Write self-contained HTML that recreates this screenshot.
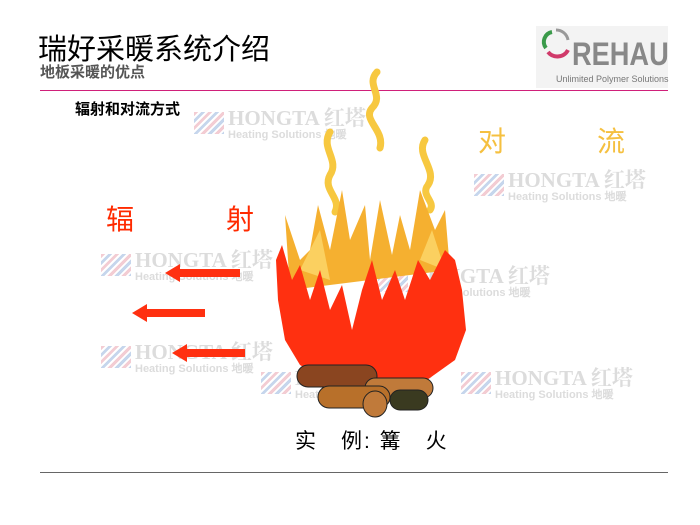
<!DOCTYPE html>
<html><head><meta charset="utf-8"><style>
body{margin:0;width:700px;height:525px;background:#fff;position:relative;overflow:hidden;font-family:"Liberation Sans","Noto Sans CJK SC",sans-serif}
.a{position:absolute;white-space:nowrap}
.wm{position:absolute;color:#dcdcdc;font-family:"Liberation Serif","Noto Serif CJK SC",serif;font-weight:bold;font-size:21px;line-height:21px}
.wm small{display:block;font-family:"Liberation Sans",sans-serif;font-size:11px;line-height:13px}
.wm i{position:absolute;left:-34px;top:4px;width:30px;height:22px;background:repeating-linear-gradient(135deg,#f0c0c8 0 3px,#fff 3px 5px,#b8cce8 5px 8px,#fff 8px 10px);opacity:.8}
</style></head><body>
<div class="a" style="left:38px;top:26px;font-size:29px;color:#000">瑞好采暖系统介绍</div>
<div class="a" style="left:40px;top:61px;font-size:15px;color:#555;font-weight:bold">地板采暖的优点</div>
<div class="a" style="left:536px;top:26px;width:132px;height:62px;background:#f3f3f3"></div>
<svg class="a" style="left:538px;top:26px" width="50" height="40"><path d="M14 6 A10 10 0 0 0 8 22" stroke="#3a9a4a" stroke-width="4" fill="none"/><path d="M10 26 A12 12 0 0 0 30 24" stroke="#d03a6a" stroke-width="4" fill="none"/><path d="M18 4 A12 12 0 0 1 30 14" stroke="#999" stroke-width="3" fill="none"/></svg>
<div class="a" style="left:572px;top:36px;font-size:32px;font-weight:bold;color:#888;transform:scaleX(0.85);transform-origin:left">REHAU</div>
<div class="a" style="left:556px;top:74px;font-size:9px;color:#777">Unlimited Polymer Solutions</div>
<div class="a" style="left:40px;top:90px;width:628px;height:1px;background:#d0207a"></div>
<div class="a" style="left:75px;top:98px;font-size:15px;font-weight:bold">辐射和对流方式</div>

<div class="wm" style="left:228px;top:108px"><i></i>HONGTA 红塔<small>Heating Solutions 地暖</small></div>
<div class="wm" style="left:508px;top:170px"><i></i>HONGTA 红塔<small>Heating Solutions 地暖</small></div>
<div class="wm" style="left:135px;top:250px"><i></i>HONGTA 红塔<small>Heating Solutions 地暖</small></div>
<div class="wm" style="left:412px;top:266px"><i></i>HONGTA 红塔<small>Heating Solutions 地暖</small></div>
<div class="wm" style="left:135px;top:342px"><i></i>HONGTA 红塔<small>Heating Solutions 地暖</small></div>
<div class="wm" style="left:295px;top:368px"><i></i>HONGTA 红塔<small>Heating Solutions 地暖</small></div>
<div class="wm" style="left:495px;top:368px"><i></i>HONGTA 红塔<small>Heating Solutions 地暖</small></div>

<div class="a" style="left:478px;top:120px;font-size:28px;color:#f5c040">对</div>
<div class="a" style="left:597px;top:120px;font-size:28px;color:#f5c040">流</div>
<div class="a" style="left:106px;top:198px;font-size:28px;color:#ff2a00">辐</div>
<div class="a" style="left:226px;top:198px;font-size:28px;color:#ff2a00">射</div>

<svg class="a" style="left:0;top:0" width="700" height="525">
<g fill="#ff3010">
<polygon points="165,273 180,264 180,269 240,269 240,277 180,277 180,282"/>
<polygon points="132,313 147,304 147,309 205,309 205,317 147,317 147,322"/>
<polygon points="172,353 187,344 187,349 245,349 245,357 187,357 187,362"/>
</g>
<g stroke="#f7c840" stroke-width="7" fill="none" stroke-linecap="round">
<path d="M377 72 C365 85 385 95 372 108 C362 120 385 130 380 148"/>
<path d="M330 132 C320 148 340 160 330 175 C322 190 342 198 335 212"/>
<path d="M425 140 C415 155 438 170 428 185 C420 195 436 202 430 210"/>
</g>
<g fill="#f5b030">
<polygon points="285,215 300,260 310,250 318,205 330,250 342,190 350,240 365,205 370,260 380,200 392,255 400,215 410,250 420,190 435,230 445,210 450,270 290,290"/>
</g>
<g fill="#fbd060">
<polygon points="300,270 320,230 330,280"/><polygon points="420,260 432,230 445,270"/>
</g>
<g fill="#ff3010">
<polygon points="276,260 282,245 292,280 300,265 310,300 320,270 330,310 342,285 352,330 362,290 372,260 382,300 395,270 405,300 418,260 430,280 445,250 455,260 462,290 466,330 455,360 420,385 380,392 330,382 300,365 285,340 278,300"/>
</g>
<g stroke="#222" stroke-width="1">
<rect x="297" y="365" width="80" height="22" rx="11" fill="#8a4520"/>
<rect x="365" y="378" width="68" height="20" rx="10" fill="#c07a3a"/>
<rect x="318" y="386" width="72" height="22" rx="11" fill="#b8702a"/>
<rect x="390" y="390" width="38" height="20" rx="10" fill="#3a3a20"/>
<ellipse cx="375" cy="404" rx="12" ry="13" fill="#c07a3a"/>
</g>
</svg>
<div class="a" style="left:295px;top:425px;font-size:21px;letter-spacing:2px">实　例: 篝　火</div>
<div class="a" style="left:40px;top:472px;width:628px;height:1px;background:#666"></div>
</body></html>
